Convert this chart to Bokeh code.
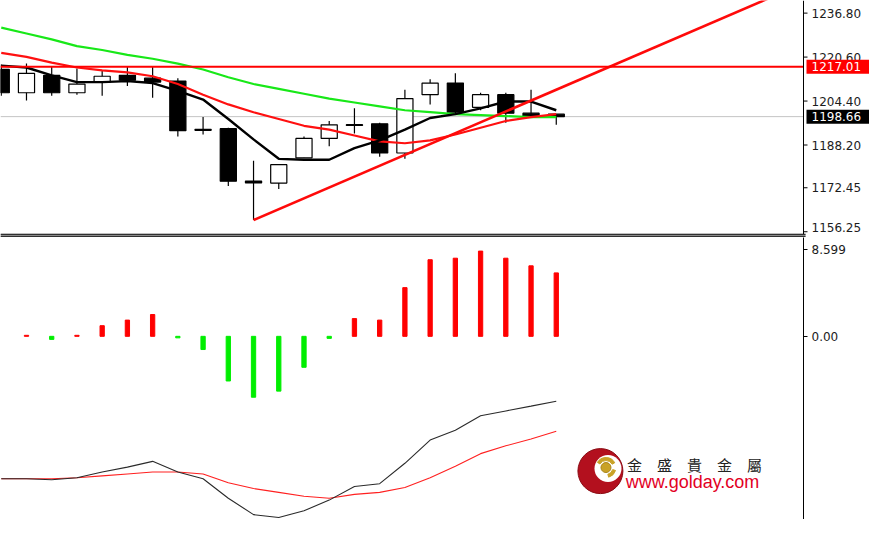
from bokeh.plotting import figure
from bokeh.models import Range1d, FixedTicker, ColumnDataSource
from bokeh.layouts import column
from bokeh.embed import file_html
from bokeh.resources import INLINE
from bokeh.core.properties import value

# ---------------- data ----------------
bars = list(range(23))
opens = [1216.04, 1207.45, 1213.89, 1207.45, 1211.39, 1213.89, 1212.82, 1211.75, 1194.00, 1194.21, 1174.90,
         1174.17, 1183.47, 1190.63, 1195.70, 1196.00, 1185.26, 1206.74, 1211.03, 1202.08, 1206.74, 1199.94, 1199.58]
highs = [1217.83, 1218.19, 1217.11, 1216.40, 1215.68, 1217.11, 1217.11, 1212.82, 1198.50, 1194.57, 1182.40,
         1180.97, 1191.35, 1197.07, 1201.72, 1196.36, 1208.53, 1212.46, 1214.61, 1207.45, 1207.45, 1208.53, 1199.58]
lows = [1206.38, 1204.59, 1206.38, 1206.74, 1206.38, 1209.96, 1205.66, 1191.35, 1192.06, 1173.09, 1160.57,
        1172.02, 1183.47, 1187.77, 1192.42, 1183.83, 1183.11, 1203.16, 1200.00, 1201.01, 1196.36, 1198.50, 1195.64]
closes = [1207.45, 1214.61, 1207.45, 1210.67, 1213.54, 1212.10, 1211.39, 1193.49, 1193.60, 1174.88, 1174.20,
          1180.97, 1190.63, 1195.64, 1195.40, 1185.26, 1205.30, 1211.03, 1200.29, 1206.74, 1199.94, 1198.86, 1198.66]

ma_fast = [1217.47, 1216.76, 1213.89, 1211.39, 1211.39, 1211.75, 1211.03, 1208.17, 1204.95, 1197.79, 1190.27,
           1183.11, 1182.76, 1182.76, 1187.05, 1189.91, 1193.85, 1198.15, 1199.58, 1201.72, 1204.23, 1204.23, 1201.01]
ma_mid = [1222.13, 1220.69, 1218.55, 1216.76, 1215.68, 1214.97, 1213.54, 1210.67, 1206.74, 1203.16, 1200.29,
          1197.79, 1195.28, 1193.85, 1191.70, 1189.56, 1188.84, 1189.91, 1192.06, 1194.57, 1197.07, 1198.50, 1199.58]
ma_slow = [1231.43, 1229.28, 1227.14, 1224.63, 1223.20, 1221.41, 1219.98, 1218.19, 1216.04, 1213.18, 1210.67,
           1208.88, 1207.09, 1205.30, 1203.87, 1202.44, 1201.01, 1200.29, 1199.58, 1199.22, 1198.86, 1198.50, 1198.50]

trend_x = [10, 31.8]
trend_y = [1160.57, 1247.77]
resistance = 1217.01
last_price = 1198.66
price_ticks = [1236.80, 1220.60, 1204.40, 1188.20, 1172.45, 1156.25]

hist_x = bars[1:]
hist_vals = [0.1, -0.3, 0.1, 1.05, 1.6, 2.15, -0.15, -1.3, -4.4, -6.0, -5.4, -3.05, -0.2, 1.75, 1.6, 4.8,
             7.55, 7.7, 8.4, 7.7, 6.95, 6.25]
osc_ticks = [8.599, 0.0]
signal_black = [-14.04, -14.04, -14.14, -13.94, -13.37, -12.89, -12.32, -13.37, -14.04, -15.95, -17.57, -17.86,
                -17.19, -16.14, -14.80, -14.52, -12.51, -10.22, -9.26, -7.83, -7.35, -6.88, -6.40]
signal_red = [-14.04, -14.04, -14.04, -13.94, -13.75, -13.56, -13.37, -13.37, -13.56, -14.42, -15.00, -15.38,
              -15.76, -15.95, -15.57, -15.38, -14.90, -13.94, -12.80, -11.56, -10.79, -10.12, -9.36]

# ---------------- layout constants ----------------
TOTAL_W = 869
FRAME_W = 803
X0, X1 = -0.03, 31.8                 # chart area (left of the price scale)
PX = (X1 - X0) / FRAME_W             # data units per pixel
XR = X0 + TOTAL_W * PX               # right end of the top canvas
YT0, YT1 = 1154.12, 1241.45
FONT = "DejaVu Sans"

# ---------------- top (price) pane ----------------
top = figure(frame_width=TOTAL_W, frame_height=237, x_range=Range1d(X0, XR), y_range=Range1d(YT0, YT1),
             output_backend="svg", toolbar_location=None, x_axis_location=None, y_axis_location=None,
             min_border_left=0, min_border_top=0, min_border_bottom=0, min_border_right=0)
top.grid.visible = False
top.outline_line_color = None
top.background_fill_color = "white"
top.border_fill_color = "white"

# current price line (behind candles)
top.segment(x0=[X0], y0=[last_price], x1=[X1], y1=[last_price], line_color="#c4c4c4", line_width=1)

src = ColumnDataSource(dict(
    x=bars,
    hi=highs, lo=lows,
    bt=[max(o, c) for o, c in zip(opens, closes)],
    bb=[min(o, c) for o, c in zip(opens, closes)],
    fc=["white" if c > o else "black" for o, c in zip(opens, closes)],
))
top.segment(x0="x", y0="lo", x1="x", y1="hi", source=src, line_color="black", line_width=1.2)
top.vbar(x="x", width=0.64, top="bt", bottom="bb", source=src, fill_color="fc", line_color="black", line_width=1.2)

top.line(bars, ma_slow, line_color="#18e818", line_width=2.2)
top.line(bars, ma_mid, line_color="#ff1010", line_width=2.2)
top.line(bars, ma_fast, line_color="black", line_width=2.4)
top.line(trend_x, trend_y, line_color="#ff0a0a", line_width=2.6)
top.segment(x0=[X0], y0=[resistance], x1=[X1], y1=[resistance], line_color="#ff0000", line_width=2)

# pane separator
top.quad(left=[X0], right=[X1 + 2 * PX], top=[1155.73], bottom=[1153.0], fill_color="#a8a8a8", line_color=None)
top.segment(x0=[X0, X0], y0=[1155.20, 1154.45], x1=[X1 + 2 * PX] * 2, y1=[1155.20, 1154.45],
            line_color="#303030", line_width=1.2)

# price scale
top.segment(x0=[X1], y0=[1155.4], x1=[X1], y1=[YT1], line_color="black", line_width=1)
top.ray(x=[X1] * len(price_ticks), y=price_ticks, length=4, length_units="screen", angle=0,
        line_color="black", line_width=1)
label_dy = [0, 0, 0, 0, 0, -4]
top.text(x=[X1] * len(price_ticks), y=price_ticks, text=[f"{t:.2f}" for t in price_ticks], x_offset=8,
         y_offset=label_dy, text_baseline="middle", text_align="left", text_font=value(FONT),
         text_font_size="12px", text_color="#1c1c1c")

# boxed price labels
box_x = X1 + 35 * PX
top.rect(x=[box_x, box_x], y=[resistance, last_price], width=64 * PX, height=14, height_units="screen",
         fill_color=["#ff0000", "black"], line_color=None)
top.text(x=[X1, X1], y=[resistance, last_price], text=[f"{resistance:.2f}", f"{last_price:.2f}"], x_offset=8,
         text_baseline="middle", text_align="left", text_font=value(FONT), text_font_size="12px",
         text_color="white")

# ---------------- bottom (oscillator) pane ----------------
bot = figure(frame_width=FRAME_W, frame_height=282, x_range=Range1d(X0, X1), y_range=Range1d(-18.05, 9.74),
             output_backend="svg", toolbar_location=None, y_axis_location="right", x_axis_location=None,
             min_border_left=0, min_border_top=0, min_border_bottom=0, min_border_right=TOTAL_W - FRAME_W)
bot.grid.visible = False
bot.outline_line_color = None
ax = bot.yaxis[0]
ax.axis_line_color = "black"
ax.major_tick_out = 4
ax.major_tick_in = 0
ax.major_tick_line_color = "black"
ax.minor_tick_line_color = None
ax.major_label_text_font = FONT
ax.major_label_text_font_size = "12px"
ax.major_label_text_color = "#1c1c1c"
ax.major_label_standoff = 4
ax.ticker = FixedTicker(ticks=osc_ticks)
ax.major_label_overrides = {8.599: "8.599", 0: "0.00"}

bot.vbar(x=hist_x, top=hist_vals, bottom=0, width=0.17,
         color=["#ff0000" if v > 0 else "#00ee00" for v in hist_vals])
bot.line(bars, signal_red, line_color="#ff2020", line_width=1.1)
bot.line(bars, signal_black, line_color="#2a2a2a", line_width=1.1)

# logo
LX, LY = 23.75, -13.28
bot.scatter([LX], [LY], size=45, fill_color="#b3101e", line_color="#8a0a12", line_width=1)
bot.scatter([LX + 0.3], [LY + 0.25], size=27, fill_color="white", line_color=None)
bot.annular_wedge([LX + 0.22], [LY + 0.35], inner_radius=7, outer_radius=10, inner_radius_units="screen",
                  outer_radius_units="screen", start_angle=0.5, end_angle=2.6, color="#c9a227")
bot.annular_wedge([LX + 0.22], [LY + 0.35], inner_radius=7, outer_radius=10, inner_radius_units="screen",
                  outer_radius_units="screen", start_angle=-1.3, end_angle=-0.3, color="#c9a227")
bot.scatter([LX + 0.22], [LY + 0.35], size=10, fill_color="#c9a227", line_color="#a8841a")
bot.text([LX + 1.05], [LY + 0.68], text=["金　盛　貴　金　屬"], text_font=value("Noto Sans CJK TC"),
         text_font_size="15px", text_baseline="middle", text_align="left", text_color="#222222")
bot.text([LX + 1.0], [LY - 1.05], text=["www.golday.com"], text_font=value("Liberation Sans"),
         text_font_size="18px", text_baseline="middle", text_align="left", text_color="#e2001f")

layout = column(top, bot, spacing=0)
open("out.html", "w").write(file_html(layout, INLINE))
